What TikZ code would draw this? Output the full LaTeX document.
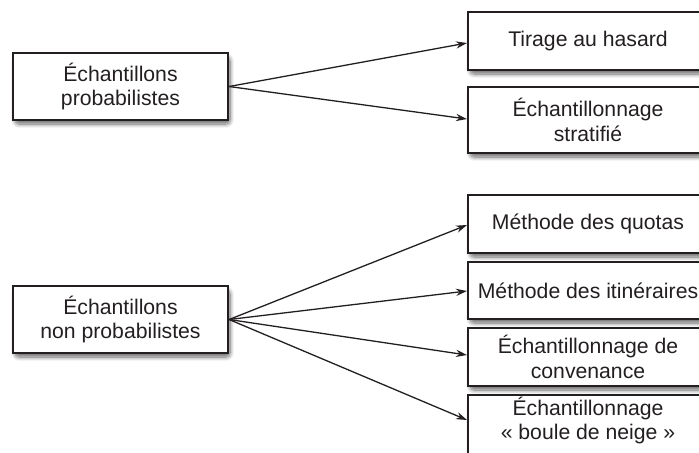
\documentclass[tikz,border=0pt]{standalone}
\usepackage{fontspec}
\setmainfont{Liberation Sans}
\usetikzlibrary{arrows.meta,shadows.blur}
\definecolor{ink}{HTML}{231F20}
\tikzset{
  box/.style={draw=ink, line width=1.1pt, fill=white, rectangle, inner sep=0pt,
    font=\fontsize{10.6}{12.4}\selectfont, text=ink, align=center,
    blur shadow={shadow xshift=1pt, shadow yshift=-2pt, shadow blur steps=8,
      shadow blur extra rounding=2pt, shadow opacity=60}},
  lbox/.style={box, minimum width=107.5pt, minimum height=33.5pt},
  rbox/.style={box, minimum width=140pt, minimum height=29pt, anchor=west},
  txt/.style={font=\fontsize{10.6}{12.4}\selectfont, text=ink, align=center, inner sep=0pt},
  arr/.style={draw=ink, line width=0.65pt, -{Stealth[length=5.5pt,width=3.6pt]}}
}
\begin{document}
\begin{tikzpicture}[x=0.5pt,y=-0.5pt]
\useasboundingbox (0,0) rectangle (699,452);
% left boxes
\node[lbox] (l1) at (120.5,86.5) {Échantillons\\probabilistes};
\node[lbox] (l2) at (120.5,319.5) {Échantillons\\non probabilistes};
% right boxes (they run past the right edge)
\node[rbox] (r1) at (467,41) {};
\node[txt] (t1) at (588,41) {Tirage au hasard};
\node[rbox, minimum height=33pt] (r2) at (467,120) {};
\node[txt] (t2) at (588,120) {Échantillonnage\\stratifié};
\node[rbox] (r3) at (467,224) {};
\node[txt] (t3) at (588,224) {Méthode des quotas};
\node[rbox, minimum height=28.5pt] (r4) at (467,290.5) {};
\node[txt] (t4) at (588,290.5) {Méthode des itinéraires};
\node[rbox] (r5) at (467,357) {};
\node[txt] (t5) at (588,357) {Échantillonnage de\\convenance};
\node[rbox, minimum height=34pt, anchor=north west] (r6) at (467,394) {};
\node[txt] (t6) at (588,420.5) {Échantillonnage\\« boule de neige »};
% arrows
\coordinate (s1) at (l1.east);
\coordinate (s2) at (l2.east);
\draw[arr] (s1) -- ([yshift=-1pt]r1.west);
\draw[arr] (s1) -- ([yshift=0.5pt]r2.west);
\draw[arr] (s2) -- ([yshift=-0.5pt]r3.west);
\draw[arr] (s2) -- ([yshift=-0.25pt]r4.west);
\draw[arr] (s2) -- ([yshift=1pt]r5.west);
\draw[arr] (s2) -- (r6.west |- 0,420);
\end{tikzpicture}
\end{document}
